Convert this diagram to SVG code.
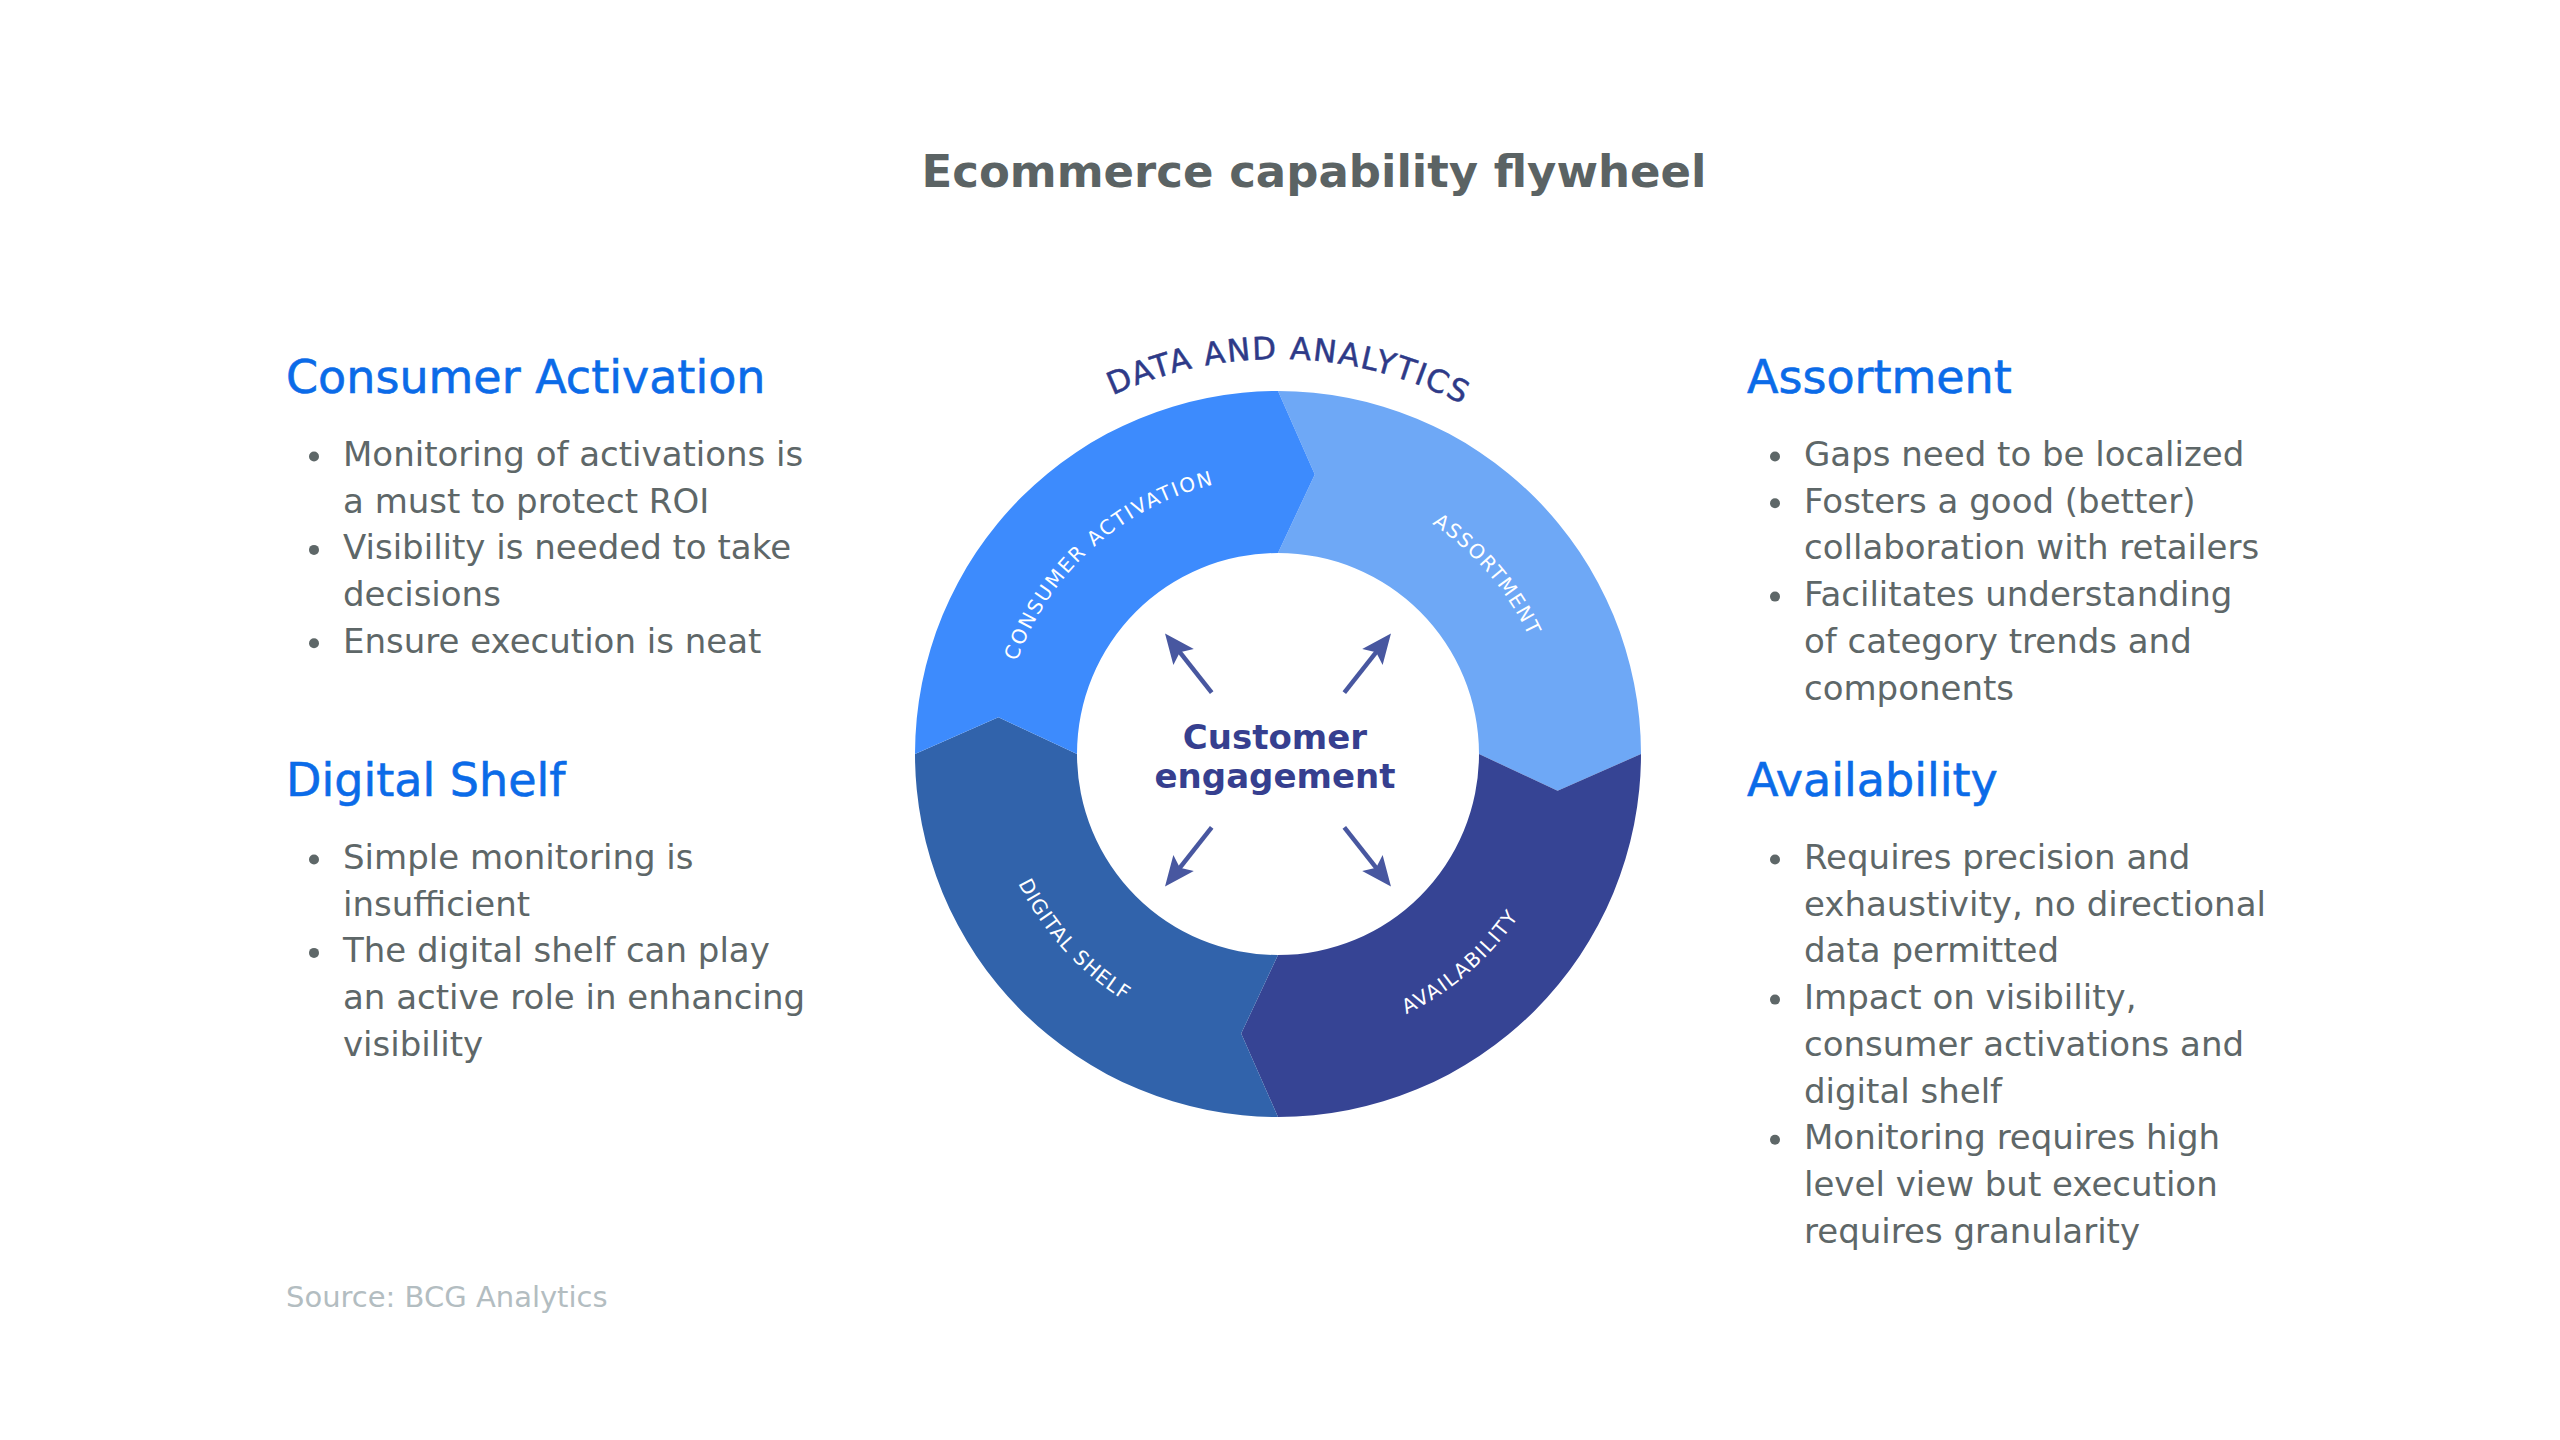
<svg xmlns="http://www.w3.org/2000/svg" width="2560" height="1440" viewBox="0 0 2560 1440">
<style>
text{font-family:"DejaVu Sans","Liberation Sans",sans-serif}
.title{font-weight:bold;font-size:45px;fill:#5b6364;text-anchor:middle}
.head{font-size:46px;fill:#0b6be8;stroke:#0b6be8;stroke-width:0.6px}
.body{font-size:34px;fill:#5e6768}
.dot{fill:#5e6768}
.src{font-size:29px;fill:#b3bdc1}
.seglabel{font-size:20px;fill:#ffffff}
.ring{font-size:31px;fill:#2e3a88;stroke:#2e3a88;stroke-width:0.5px}
.center{font-weight:bold;font-size:34px;fill:#363f8f;text-anchor:middle}
.arrow{stroke:#4857a0;stroke-width:4.5;fill:none;marker-end:url(#head)}
</style>
<defs>
<marker id="head" viewBox="0 0 32 28" refX="11" refY="14" markerWidth="32" markerHeight="28" markerUnits="userSpaceOnUse" orient="auto" overflow="visible">
<path d="M31,14 L1,1 L7,14 L1,27 Z" fill="#4857a0"/>
</marker>
<path id="arcCA" d="M1001.4,739.5 A277,277 0 0,1 1292.5,477.4"/>
<path id="arcAS" d="M1298.8,477.8 A277,277 0 0,1 1554.2,774.8"/>
<path id="arcAV" d="M1257.8,1043.3 A291,291 0 0,0 1568.3,774.3"/>
<path id="arcDS" d="M988.3,739.8 A291,291 0 0,0 1263.8,1044.7"/>
<path id="arcDA" d="M941.2,547.6 A395,395 0 0,1 1625.1,565.5"/>
</defs>
<rect width="2560" height="1440" fill="#ffffff"/>

<text id="title" class="title" x="1314" y="187">Ecommerce capability flywheel</text>

<g id="wheel">
<g id="seg-assortment">
<path d="M1278,391 A363,363 0 0,1 1641,754 L1557.6,790.8 L1479,754 A201,201 0 0,0 1278,553 L1314.8,474.4 Z" fill="#6ea8f6"/>
<text class="seglabel"><textPath href="#arcAS" startOffset="50%" text-anchor="middle" textLength="150">ASSORTMENT</textPath></text>
</g>
<g id="seg-availability">
<path d="M1641,754 A363,363 0 0,1 1278,1117 L1241.2,1033.6 L1278,955 A201,201 0 0,0 1479,754 L1557.6,790.8 Z" fill="#364494"/>
<text class="seglabel"><textPath href="#arcAV" startOffset="50%" text-anchor="middle" textLength="150">AVAILABILITY</textPath></text>
</g>
<g id="seg-digital-shelf">
<path d="M1278,1117 A363,363 0 0,1 915,754 L998.4,717.2 L1077,754 A201,201 0 0,0 1278,955 L1241.2,1033.6 Z" fill="#3163ab"/>
<text class="seglabel"><textPath href="#arcDS" startOffset="50%" text-anchor="middle" textLength="160">DIGITAL SHELF</textPath></text>
</g>
<g id="seg-consumer-activation">
<path d="M915,754 A363,363 0 0,1 1278,391 L1314.8,474.4 L1278,553 A201,201 0 0,0 1077,754 L998.4,717.2 Z" fill="#3d8bfd"/>
<text class="seglabel"><textPath href="#arcCA" startOffset="50%" text-anchor="middle" textLength="275">CONSUMER ACTIVATION</textPath></text>
</g>
<g id="data-analytics">
<text class="ring"><textPath href="#arcDA" startOffset="50%" text-anchor="middle" textLength="362">DATA AND ANALYTICS</textPath></text>
</g>
<g id="customer-engagement">
<text class="center" x="1275" y="749">Customer</text>
<text class="center" x="1275" y="788">engagement</text>
</g>
</g>

<g id="connectors">
<line class="arrow" x1="1211.7" y1="692.7" x2="1177.4" y2="649.1"/>
<line class="arrow" x1="1344.3" y1="692.7" x2="1378.6" y2="649.1"/>
<line class="arrow" x1="1211.7" y1="827.3" x2="1177.4" y2="870.9"/>
<line class="arrow" x1="1344.3" y1="827.3" x2="1378.6" y2="870.9"/>
</g>

<g id="text-consumer-activation">
<text class="head" x="286" y="393">Consumer Activation</text>
<circle class="dot" cx="314" cy="456.5" r="5"/>
<circle class="dot" cx="314" cy="549.9" r="5"/>
<circle class="dot" cx="314" cy="643.3" r="5"/>
<text class="body" x="343" y="466">Monitoring of activations is</text>
<text class="body" x="343" y="512.7">a must to protect ROI</text>
<text class="body" x="343" y="559.4">Visibility is needed to take</text>
<text class="body" x="343" y="606.1">decisions</text>
<text class="body" x="343" y="652.8">Ensure execution is neat</text>
</g>

<g id="text-digital-shelf">
<text class="head" x="286" y="796">Digital Shelf</text>
<circle class="dot" cx="314" cy="859.5" r="5"/>
<circle class="dot" cx="314" cy="952.9" r="5"/>
<text class="body" x="343" y="869">Simple monitoring is</text>
<text class="body" x="343" y="915.7">insufficient</text>
<text class="body" x="343" y="962.4">The digital shelf can play</text>
<text class="body" x="343" y="1009.1">an active role in enhancing</text>
<text class="body" x="343" y="1055.8">visibility</text>
</g>

<g id="text-assortment">
<text class="head" x="1747" y="393">Assortment</text>
<circle class="dot" cx="1775" cy="456.5" r="5"/>
<circle class="dot" cx="1775" cy="503.2" r="5"/>
<circle class="dot" cx="1775" cy="596.6" r="5"/>
<text class="body" x="1804" y="466">Gaps need to be localized</text>
<text class="body" x="1804" y="512.7">Fosters a good (better)</text>
<text class="body" x="1804" y="559.4">collaboration with retailers</text>
<text class="body" x="1804" y="606.1">Facilitates understanding</text>
<text class="body" x="1804" y="652.8">of category trends and</text>
<text class="body" x="1804" y="699.5">components</text>
</g>

<g id="text-availability">
<text class="head" x="1747" y="796">Availability</text>
<circle class="dot" cx="1775" cy="859.5" r="5"/>
<circle class="dot" cx="1775" cy="999.6" r="5"/>
<circle class="dot" cx="1775" cy="1139.7" r="5"/>
<text class="body" x="1804" y="869">Requires precision and</text>
<text class="body" x="1804" y="915.7">exhaustivity, no directional</text>
<text class="body" x="1804" y="962.4">data permitted</text>
<text class="body" x="1804" y="1009.1">Impact on visibility,</text>
<text class="body" x="1804" y="1055.8">consumer activations and</text>
<text class="body" x="1804" y="1102.5">digital shelf</text>
<text class="body" x="1804" y="1149.2">Monitoring requires high</text>
<text class="body" x="1804" y="1195.9">level view but execution</text>
<text class="body" x="1804" y="1242.6">requires granularity</text>
</g>

<text id="source" class="src" x="286" y="1307">Source: BCG Analytics</text>
</svg>
